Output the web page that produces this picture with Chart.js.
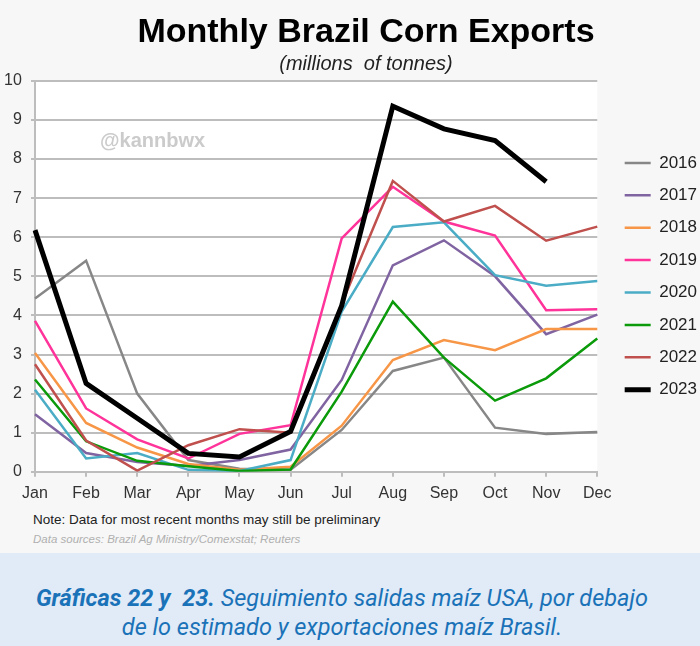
<!DOCTYPE html>
<html>
<head>
<meta charset="utf-8">
<script src="https://cdn.jsdelivr.net/npm/chart.js@4"></script>
<style>
  body { margin: 0; background: #f7f7f7; font-family: "Liberation Sans", Arial, sans-serif; }
  #top { position: relative; width: 700px; height: 553px; background: #f7f7f7; }
  #myChart { position: absolute; left: 0; top: 0; }
  #mark { position: absolute; left: 100px; top: 129px; font: bold 20px "Liberation Sans", Arial, sans-serif; color: #cbcbcb; }
  #note { position: absolute; left: 33px; top: 512px; font-size: 13.5px; color: #222; }
  #src { position: absolute; left: 33px; top: 533px; font-size: 11.5px; font-style: italic; color: #b0b0b0; }
  #cap { width: 700px; height: 93px; background: #e0ebf7; color: #1a72b8; font: italic 23.5px Roboto, sans-serif;
         text-align: center; line-height: 29px; padding: 31px 16px 0 0; box-sizing: border-box; }
</style>
</head>
<body>
<div id="top">
  <canvas id="myChart" width="700" height="510"></canvas>
  <div id="mark">@kannbwx</div>
  <div id="note">Note: Data for most recent months may still be preliminary</div>
  <div id="src">Data sources: Brazil Ag Ministry/Comexstat; Reuters</div>
</div>
<div id="cap"><b>Gráficas 22 y&nbsp; 23.</b> Seguimiento salidas maíz USA, por debajo<br>de lo estimado y exportaciones maíz Brasil.</div>
<script>
var months = ['Jan', 'Feb', 'Mar', 'Apr', 'May', 'Jun', 'Jul', 'Aug', 'Sep', 'Oct', 'Nov', 'Dec'];
var years = ['2016', '2017', '2018', '2019', '2020', '2021', '2022', '2023'];
var y2016 = [4.43, 5.4, 2.0, 0.3, 0.08, 0.05, 1.07, 2.58, 2.92, 1.13, 0.97, 1.02];
var y2017 = [1.47, 0.48, 0.25, 0.15, 0.3, 0.57, 2.35, 5.28, 5.92, 5.0, 3.52, 4.02];
var y2018 = [3.04, 1.25, 0.62, 0.2, 0.05, 0.13, 1.18, 2.86, 3.37, 3.11, 3.65, 3.65];
var y2019 = [3.86, 1.62, 0.83, 0.34, 0.97, 1.19, 5.97, 7.29, 6.4, 6.04, 4.13, 4.16];
var y2020 = [2.1, 0.34, 0.48, 0.05, 0.02, 0.3, 4.1, 6.26, 6.38, 5.03, 4.76, 4.88];
var y2021 = [2.36, 0.78, 0.28, 0.14, 0.02, 0.06, 2.05, 4.35, 2.92, 1.82, 2.39, 3.41];
var y2022 = [2.75, 0.8, 0.03, 0.68, 1.09, 1.0, 4.3, 7.44, 6.4, 6.8, 5.91, 6.27];
var y2023 = [6.18, 2.26, 1.37, 0.47, 0.38, 1.03, 4.25, 9.35, 8.77, 8.47, 7.42, null];
var series = [y2016, y2017, y2018, y2019, y2020, y2021, y2022, y2023];
var colors = ['#878787', '#8064a2', '#f79646', '#ff3399', '#4bacc6', '#0a9a0a', '#c0504d', '#000000'];

// white plot area, gray surround
var plotBg = {
    id: 'plotBg',
    beforeDraw: function (chart) {
        var a = chart.chartArea, c = chart.ctx;
        c.save();
        c.fillStyle = '#ffffff';
        c.fillRect(a.left, a.top, a.right - a.left, a.bottom - a.top);
        c.restore();
    }
};

var ctx = document.getElementById('myChart').getContext('2d');
var myChart = new Chart(ctx, {
    type: 'line',
    data: {
        labels: months,
        datasets: years.map(function (y, i) {
            return {
                label: y,
                data: series[i],
                borderColor: colors[i],
                backgroundColor: colors[i],
                borderWidth: i == 7 ? 5 : 2.5,
                pointRadius: 0,
                tension: 0,
                order: 7 - i
            };
        })
    },
    plugins: [plotBg],
    options: {
        responsive: false,
        animation: false,
        devicePixelRatio: 1,
        layout: { padding: { left: 25, right: -7, top: 0, bottom: 0 } },
        plugins: {
            title: {
                display: true,
                text: 'Monthly Brazil Corn Exports',
                color: '#000',
                font: { family: 'Liberation Sans', size: 34, weight: 'bold' },
                padding: { top: 12, bottom: 0 }
            },
            subtitle: {
                display: true,
                text: '(millions  of tonnes)',
                color: '#222',
                font: { family: 'Liberation Sans', size: 20, style: 'italic' },
                padding: { top: 0, bottom: 4 }
            },
            legend: {
                position: 'right',
                fullSize: false,
                labels: {
                    usePointStyle: true,
                    pointStyle: 'line',
                    pointStyleWidth: 26,
                    color: '#222',
                    font: { family: 'Liberation Sans', size: 17 },
                    padding: 15.4,
                    sort: function (a, b) { return a.datasetIndex - b.datasetIndex; }
                }
            },
            tooltip: { enabled: false }
        },
        scales: {
            x: {
                offset: false,
                grid: { drawOnChartArea: false, drawTicks: true, tickLength: 5, color: '#bdbdbd', lineWidth: 2 },
                border: { display: true, color: '#bdbdbd', width: 2 },
                ticks: { color: '#333', font: { family: 'Liberation Sans', size: 16 }, padding: 7, maxRotation: 0 }
            },
            y: {
                min: 0,
                max: 10,
                afterFit: function (scale) { scale.width = 10; },
                grid: { color: '#bdbdbd', lineWidth: 2, drawTicks: true, tickLength: 4 },
                border: { display: true, color: '#bdbdbd', width: 2 },
                ticks: { stepSize: 1, color: '#333', font: { family: 'Liberation Sans', size: 16 },
                         mirror: true, crossAlign: 'far', padding: -31 }
            },
            gap: {
                type: 'linear',
                position: 'right',
                display: true,
                afterFit: function (scale) { scale.width = 12; },
                grid: { drawOnChartArea: false, drawTicks: false },
                border: { display: false },
                ticks: { display: false }
            }
        }
    }
});
</script>
</body>
</html>
